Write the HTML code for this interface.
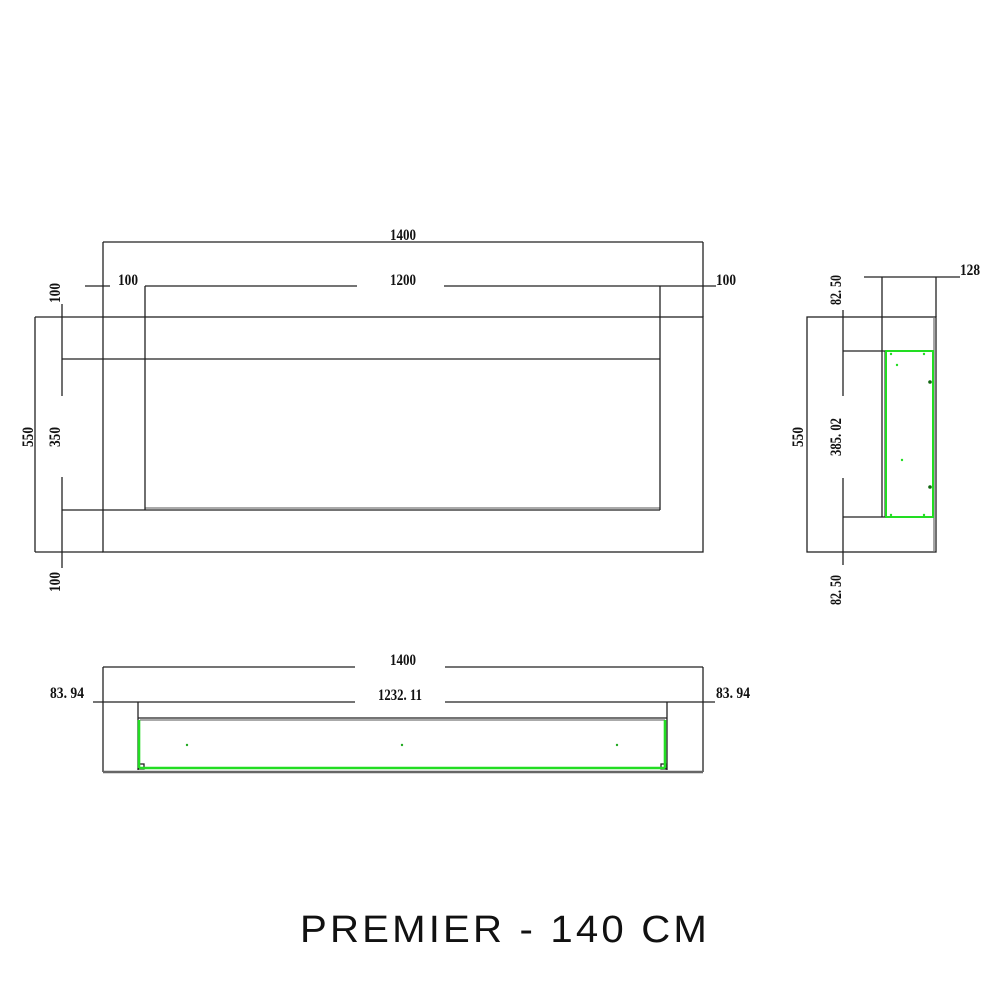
<!DOCTYPE html>
<html><head><meta charset="utf-8"><style>
html,body{margin:0;padding:0;background:#fff;}
svg{display:block;}
.d{font-family:"Liberation Serif",serif;font-size:16px;font-weight:bold;fill:#111;}
</style></head><body>
<svg width="1000" height="1000" viewBox="0 0 1000 1000" xmlns="http://www.w3.org/2000/svg">
<g stroke="#222" stroke-width="1.3" fill="none">
<rect x="103" y="317" width="600" height="235"/>
<line x1="103" y1="242" x2="703" y2="242"/>
<line x1="103" y1="242" x2="103" y2="317"/>
<line x1="703" y1="242" x2="703" y2="317"/>
<line x1="35" y1="317" x2="103" y2="317"/>
<line x1="35" y1="552" x2="103" y2="552"/>
<line x1="35" y1="317" x2="35" y2="552"/>
<line x1="62" y1="359" x2="660" y2="359"/>
<line x1="62" y1="510" x2="660" y2="510"/>
<line x1="145" y1="508" x2="660" y2="508" stroke="#777"/>
<line x1="145" y1="286" x2="145" y2="510"/>
<line x1="660" y1="286" x2="660" y2="510"/>
<line x1="85" y1="286" x2="110" y2="286"/>
<line x1="145" y1="286" x2="357" y2="286"/>
<line x1="444" y1="286" x2="716" y2="286"/>
<line x1="62" y1="304" x2="62" y2="396"/>
<line x1="62" y1="477" x2="62" y2="568"/>
<rect x="807" y="317" width="129" height="235"/>
<line x1="934" y1="317" x2="934" y2="552" stroke="#777"/>
<line x1="864" y1="277" x2="960" y2="277"/>
<line x1="882" y1="277" x2="882" y2="517"/>
<line x1="885" y1="351" x2="885" y2="517" stroke="#555"/>
<line x1="936" y1="277" x2="936" y2="317"/>
<line x1="843" y1="351" x2="885" y2="351"/>
<line x1="843" y1="517" x2="885" y2="517"/>
<line x1="843" y1="310" x2="843" y2="396"/>
<line x1="843" y1="478" x2="843" y2="565"/>
<line x1="103" y1="667" x2="103" y2="772"/>
<line x1="703" y1="667" x2="703" y2="772"/>
<line x1="103" y1="667" x2="355" y2="667"/>
<line x1="445" y1="667" x2="703" y2="667"/>
<line x1="93" y1="702" x2="355" y2="702"/>
<line x1="445" y1="702" x2="715" y2="702"/>
<line x1="138" y1="702" x2="138" y2="770"/>
<line x1="667" y1="702" x2="667" y2="770"/>
<line x1="138" y1="718" x2="667" y2="718"/>
<line x1="140" y1="720" x2="665" y2="720" stroke="#777"/>
<line x1="103" y1="772" x2="703" y2="772" stroke="#666" stroke-width="2.5"/>
<rect x="139" y="764" width="5" height="5"/>
<rect x="661" y="764" width="5" height="5"/>
</g>
<g stroke="#22dd22" stroke-width="2" fill="none">
<rect x="886" y="351" width="47" height="166"/>
</g>
<g stroke="#22dd22" stroke-width="2.6" fill="none">
<line x1="139" y1="720" x2="139" y2="768"/>
<line x1="665" y1="720" x2="665" y2="768"/>
<line x1="139" y1="768" x2="665" y2="768"/>
</g>
<g fill="#22aa22">
<circle cx="187" cy="745" r="1.2"/><circle cx="402" cy="745" r="1.2"/><circle cx="617" cy="745" r="1.2"/>
<circle cx="891" cy="354" r="1.2" fill="#2d2"/><circle cx="924" cy="354" r="1.2" fill="#2d2"/>
<circle cx="897" cy="365" r="1.2" fill="#2d2"/><circle cx="902" cy="460" r="1.2" fill="#2d2"/>
<circle cx="891" cy="515" r="1.2" fill="#2d2"/><circle cx="924" cy="515" r="1.2" fill="#2d2"/>
<circle cx="930" cy="382" r="1.8" fill="#161"/><circle cx="930" cy="487" r="1.8" fill="#161"/>
</g>
<text class="d" x="403" y="240" text-anchor="middle" textLength="26" lengthAdjust="spacingAndGlyphs">1400</text>
<text class="d" x="403" y="285" text-anchor="middle" textLength="26" lengthAdjust="spacingAndGlyphs">1200</text>
<text class="d" x="128" y="285" text-anchor="middle" textLength="20" lengthAdjust="spacingAndGlyphs">100</text>
<text class="d" x="726" y="285" text-anchor="middle" textLength="20" lengthAdjust="spacingAndGlyphs">100</text>
<text class="d" transform="translate(60,293) rotate(-90)" text-anchor="middle" textLength="20" lengthAdjust="spacingAndGlyphs">100</text>
<text class="d" transform="translate(60,437) rotate(-90)" text-anchor="middle" textLength="20" lengthAdjust="spacingAndGlyphs">350</text>
<text class="d" transform="translate(60,582) rotate(-90)" text-anchor="middle" textLength="20" lengthAdjust="spacingAndGlyphs">100</text>
<text class="d" transform="translate(33,437) rotate(-90)" text-anchor="middle" textLength="20" lengthAdjust="spacingAndGlyphs">550</text>
<text class="d" x="970" y="275" text-anchor="middle" textLength="20" lengthAdjust="spacingAndGlyphs">128</text>
<text class="d" transform="translate(841,290) rotate(-90)" text-anchor="middle" textLength="30" lengthAdjust="spacingAndGlyphs">82. 50</text>
<text class="d" transform="translate(841,590) rotate(-90)" text-anchor="middle" textLength="30" lengthAdjust="spacingAndGlyphs">82. 50</text>
<text class="d" transform="translate(841,437) rotate(-90)" text-anchor="middle" textLength="38" lengthAdjust="spacingAndGlyphs">385. 02</text>
<text class="d" transform="translate(803,437) rotate(-90)" text-anchor="middle" textLength="20" lengthAdjust="spacingAndGlyphs">550</text>
<text class="d" x="403" y="665" text-anchor="middle" textLength="26" lengthAdjust="spacingAndGlyphs">1400</text>
<text class="d" x="400" y="700" text-anchor="middle" textLength="44" lengthAdjust="spacingAndGlyphs">1232. 11</text>
<text class="d" x="67" y="698" text-anchor="middle" textLength="34" lengthAdjust="spacingAndGlyphs">83. 94</text>
<text class="d" x="733" y="698" text-anchor="middle" textLength="34" lengthAdjust="spacingAndGlyphs">83. 94</text>
<text x="505" y="942" text-anchor="middle" font-family="Liberation Sans, sans-serif" font-size="38" fill="#111" letter-spacing="3" textLength="410" lengthAdjust="spacingAndGlyphs">PREMIER - 140 CM</text>
</svg>
</body></html>
